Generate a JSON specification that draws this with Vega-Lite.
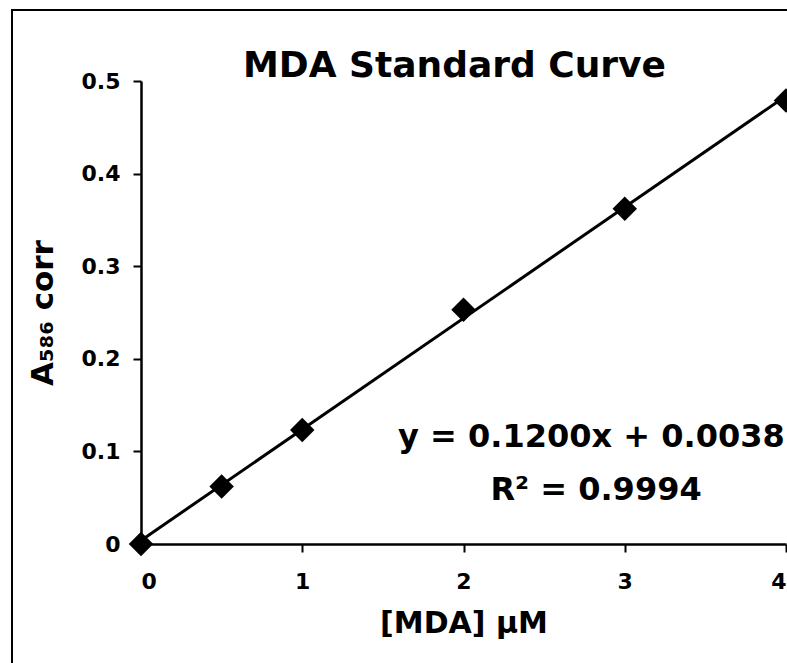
{
  "$schema": "https://vega.github.io/schema/vega-lite/v6.json",
  "autosize": "none",
  "width": 645,
  "height": 463,
  "padding": {"left": 141, "top": 81, "right": 1, "bottom": 119},
  "background": "white",
  "config": {
    "view": {"stroke": null},
    "font": "DejaVu Sans",
    "axis": {
      "grid": false,
      "domainColor": "black",
      "domainWidth": 2.5,
      "tickColor": "black",
      "tickWidth": 2,
      "tickSize": 8,
      "labelFont": "DejaVu Sans",
      "labelFontWeight": "bold",
      "labelFontSize": 22,
      "labelColor": "black",
      "titleFont": "DejaVu Sans",
      "titleFontWeight": "bold",
      "titleColor": "black"
    }
  },
  "title": {
    "text": "MDA Standard Curve",
    "font": "DejaVu Sans",
    "fontSize": 36,
    "fontWeight": "bold",
    "color": "black",
    "anchor": "middle",
    "baseline": "alphabetic",
    "offset": -104,
    "dx": -9
  },
  "datasets": {
    "points": [
      {"conc": 0, "abs": 0},
      {"conc": 0.5, "abs": 0.062},
      {"conc": 1, "abs": 0.123},
      {"conc": 2, "abs": 0.253},
      {"conc": 3, "abs": 0.362},
      {"conc": 4, "abs": 0.479}
    ],
    "trend": [
      {"conc": 0, "abs": 0.0038},
      {"conc": 4, "abs": 0.4838}
    ],
    "equation": [
      {"conc": 1.594, "abs": 0.1048, "text": "y = 0.1200x + 0.0038"}
    ],
    "rsq": [
      {"conc": 2.822, "abs": 0.0475, "text": "R² = 0.9994"}
    ],
    "frame": [
      {"conc": -0.8, "conc2": 4.3, "abs": -0.25, "abs2": 0.5767}
    ]
  },
  "encoding": {
    "x": {
      "field": "conc", "type": "quantitative",
      "scale": {"domain": [0, 4], "nice": false, "zero": false},
      "axis": {"values": [0, 1, 2, 3, 4], "labelPadding": 19, "title": "[MDA] µM", "titleFontSize": 30, "titlePadding": 16}
    },
    "y": {
      "field": "abs", "type": "quantitative",
      "scale": {"domain": [0, 0.5], "nice": false, "zero": false},
      "axis": {
        "values": [0, 0.1, 0.2, 0.3, 0.4, 0.5],
        "labelExpr": "datum.value == 0 ? '0' : format(datum.value, '.1f')",
        "labelPadding": 13,
        "title": "A₅₈₆ corr",
        "titleFontSize": 31,
        "titlePadding": 22
      }
    }
  },
  "layer": [
    {
      "data": {"name": "frame"},
      "mark": {"type": "rect", "fillOpacity": 0, "stroke": "black", "strokeWidth": 2, "clip": false},
      "encoding": {
        "x2": {"field": "conc2"},
        "y2": {"field": "abs2"}
      }
    },
    {
      "data": {"name": "trend"},
      "mark": {"type": "line", "color": "black", "strokeWidth": 3}
    },
    {
      "data": {"name": "points"},
      "mark": {"type": "point", "shape": "diamond", "filled": true, "color": "black", "size": 600, "opacity": 1}
    },
    {
      "data": {"name": "equation"},
      "mark": {"type": "text", "font": "DejaVu Sans", "fontSize": 32, "fontWeight": "bold", "color": "black", "baseline": "alphabetic", "align": "left", "clip": false},
      "encoding": {"text": {"field": "text"}}
    },
    {
      "data": {"name": "rsq"},
      "mark": {"type": "text", "font": "DejaVu Sans", "fontSize": 32, "fontWeight": "bold", "color": "black", "baseline": "alphabetic", "align": "center", "clip": false},
      "encoding": {"text": {"field": "text"}}
    }
  ]
}
